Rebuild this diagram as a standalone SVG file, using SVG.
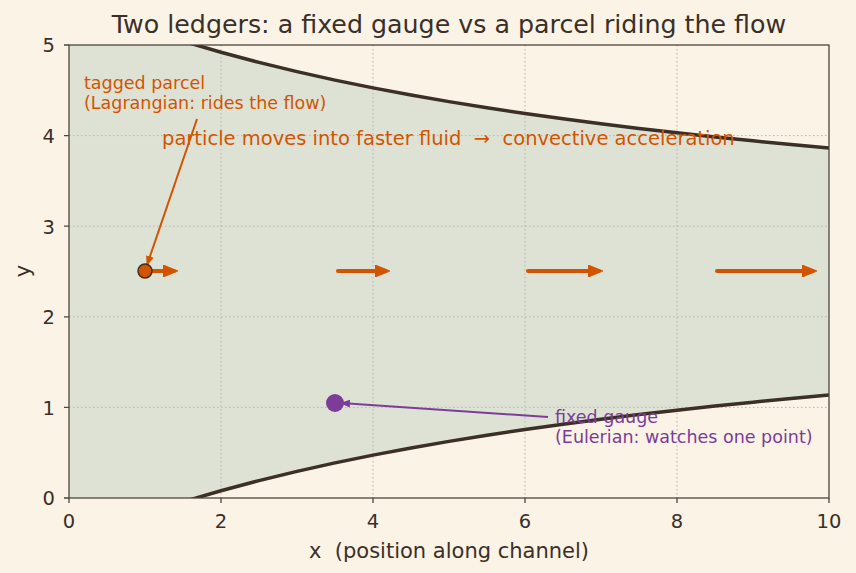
<svg xmlns="http://www.w3.org/2000/svg" width="856" height="573" viewBox="0 0 856 573" font-family="'DejaVu Sans', Verdana, sans-serif">
<defs>
<style>
text{font-family:'DejaVu Sans',Verdana,sans-serif;fill:#3a3028;white-space:pre}
.tick{font-size:19.5px}
.grid{stroke:#b8b4a8;stroke-width:1;stroke-dasharray:1.5 2.5}
.wall{fill:none;stroke:#3b2f26;stroke-width:3.5}
.vel{stroke:#d35400;stroke-width:4;fill:none;stroke-linecap:round}
</style>
<clipPath id="plot"><rect x="69" y="45" width="760" height="453"/></clipPath>
<marker id="ah" viewBox="0 0 10 10" preserveAspectRatio="none" refX="6.67" refY="5" markerWidth="3.75" markerHeight="3" orient="auto" markerUnits="strokeWidth"><path d="M0,0 L10,5 L0,10 Z" fill="#d35400" stroke="#d35400" stroke-width="0.8" stroke-linejoin="round"/></marker>
<marker id="ahs" viewBox="0 0 10 10" refX="9" refY="5" markerWidth="5" markerHeight="5" orient="auto" markerUnits="strokeWidth"><path d="M0,1 L10,5 L0,9 Z" fill="#d35400"/></marker>
<marker id="ahp" viewBox="0 0 10 10" refX="9" refY="5" markerWidth="5" markerHeight="5" orient="auto" markerUnits="strokeWidth"><path d="M0,1 L10,5 L0,9 Z" fill="#7d3c98"/></marker>
</defs>
<rect width="856" height="573" fill="#faf3e6"/>
<g clip-path="url(#plot)">
<path fill="#dde2d5" d="M69,-0.3 L107,15.08 L145,28.82 L183,41.16 L221,52.30 L259,62.42 L297,71.65 L335,80.09 L373,87.85 L411,95.00 L449,101.63 L487,107.77 L525,113.48 L563,118.80 L601,123.78 L639,128.45 L677,132.83 L715,136.95 L753,140.83 L791,144.49 L829,147.96 L829,395.04 L791,398.51 L753,402.17 L715,406.05 L677,410.17 L639,414.55 L601,419.22 L563,424.20 L525,429.52 L487,435.23 L449,441.37 L411,448.00 L373,455.15 L335,462.91 L297,471.35 L259,480.58 L221,490.70 L183,501.84 L145,514.18 L107,527.92 L69,543.3 Z"/>
<g id="grid">
<line class="grid" x1="221" y1="45" x2="221" y2="498"/>
<line class="grid" x1="373" y1="45" x2="373" y2="498"/>
<line class="grid" x1="525" y1="45" x2="525" y2="498"/>
<line class="grid" x1="677" y1="45" x2="677" y2="498"/>
<line class="grid" x1="69" y1="407.4" x2="829" y2="407.4"/>
<line class="grid" x1="69" y1="316.8" x2="829" y2="316.8"/>
<line class="grid" x1="69" y1="226.2" x2="829" y2="226.2"/>
<line class="grid" x1="69" y1="135.6" x2="829" y2="135.6"/>
</g>
<g id="walls">
<polyline class="wall" points="69,-0.3 107,15.08 145,28.82 183,41.16 221,52.30 259,62.42 297,71.65 335,80.09 373,87.85 411,95.00 449,101.63 487,107.77 525,113.48 563,118.80 601,123.78 639,128.45 677,132.83 715,136.95 753,140.83 791,144.49 829,147.96"/>
<polyline class="wall" points="69,543.3 107,527.92 145,514.18 183,501.84 221,490.70 259,480.58 297,471.35 335,462.91 373,455.15 411,448.00 449,441.37 487,435.23 525,429.52 563,424.20 601,419.22 639,414.55 677,410.17 715,406.05 753,402.17 791,398.51 829,395.04"/>
</g>
</g>
<g id="axes" stroke="#4f463c" stroke-width="1.3" fill="none">
<rect x="69" y="45" width="760" height="453"/>
<path d="M69,498v5M221,498v5M373,498v5M525,498v5M677,498v5M829,498v5M69,498h-5M69,407.4h-5M69,316.8h-5M69,226.2h-5M69,135.6h-5M69,45h-5"/>
</g>
<g id="ticklabels">
<g text-anchor="middle">
<text class="tick" x="69" y="528">0</text>
<text class="tick" x="221" y="528">2</text>
<text class="tick" x="373" y="528">4</text>
<text class="tick" x="525" y="528">6</text>
<text class="tick" x="677" y="528">8</text>
<text class="tick" x="829" y="528">10</text>
</g>
<g text-anchor="end">
<text class="tick" x="55" y="505.3">0</text>
<text class="tick" x="55" y="414.7">1</text>
<text class="tick" x="55" y="324.1">2</text>
<text class="tick" x="55" y="233.5">3</text>
<text class="tick" x="55" y="142.9">4</text>
<text class="tick" x="55" y="52.3">5</text>
</g>
</g>
<text x="449" y="558" text-anchor="middle" font-size="21" xml:space="preserve">x  (position along channel)</text>
<text transform="translate(30,271) rotate(-90)" text-anchor="middle" font-size="21">y</text>
<text x="449" y="33" text-anchor="middle" font-size="25.3">Two ledgers: a fixed gauge vs a parcel riding the flow</text>
<g id="connectors">
<line x1="152" y1="271" x2="173" y2="271" class="vel" marker-end="url(#ah)"/>
<line x1="338" y1="271" x2="385" y2="271" class="vel" marker-end="url(#ah)"/>
<line x1="528" y1="271" x2="598" y2="271" class="vel" marker-end="url(#ah)"/>
<line x1="717" y1="271" x2="812" y2="271" class="vel" marker-end="url(#ah)"/>
<line x1="197" y1="119" x2="147" y2="265" stroke="#d35400" stroke-width="2" marker-end="url(#ahs)"/>
<line x1="548" y1="417" x2="341" y2="403" stroke="#7d3c98" stroke-width="2" marker-end="url(#ahp)"/>
</g>
<g id="parcel">
<circle cx="145" cy="271" r="7" fill="#d35400" stroke="#3b2f26" stroke-width="1.5"/>
<text x="84" y="89" font-size="17.5" style="fill:#d35400">tagged parcel</text>
<text x="84" y="109" font-size="17.5" style="fill:#d35400">(Lagrangian: rides the flow)</text>
</g>
<g id="gauge">
<circle cx="335" cy="403" r="9" fill="#7d3c98"/>
<text x="555" y="423" font-size="17.5" style="fill:#7d3c98">fixed gauge</text>
<text x="555" y="443" font-size="17.5" style="fill:#7d3c98">(Eulerian: watches one point)</text>
</g>
<text x="162" y="145" font-size="19.5" style="fill:#d35400" xml:space="preserve">particle moves into faster fluid  →  convective acceleration</text>
</svg>
